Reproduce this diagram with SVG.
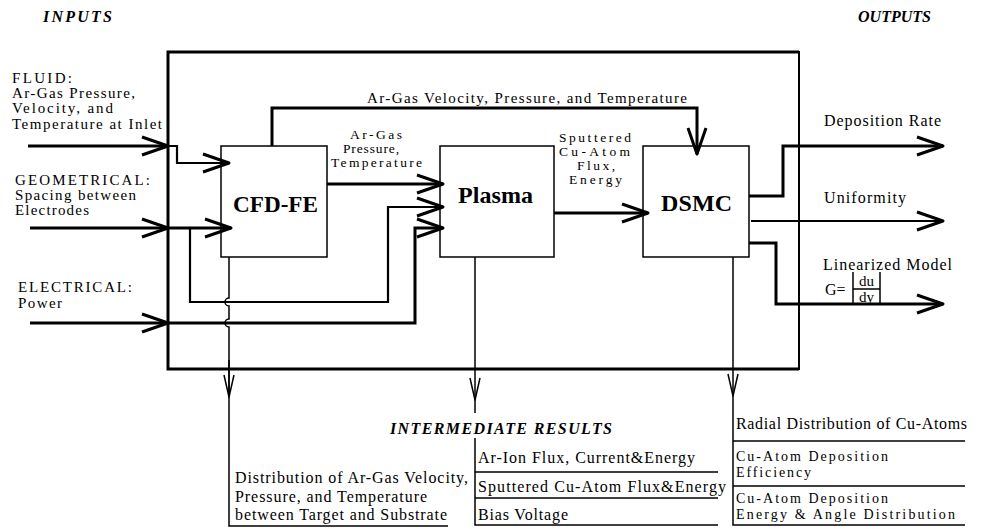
<svg xmlns="http://www.w3.org/2000/svg" width="981" height="529" viewBox="0 0 981 529">
<style>
text{font-family:"Liberation Serif","Times New Roman",serif;fill:#000}
.lab{font-size:15px}
.mid{font-size:15px}
.stk{font-size:13.5px}
.out{font-size:16px}
.bot{font-size:16px}
.bs{font-size:14px}
.frac{font-size:15px}
.hdr{font-size:16px;font-weight:bold;font-style:italic}
.node{font-size:24px;font-weight:bold}
.box{fill:#fff;stroke:#000;stroke-width:1.5}
.thick{fill:none;stroke:#000;stroke-width:3}
.med{fill:none;stroke:#000;stroke-width:2.2}
.thin{fill:none;stroke:#000;stroke-width:1.5}
.ah{marker-end:url(#open)}
.at{marker-end:url(#vthin)}
</style>
<defs>
<marker id="open" markerUnits="userSpaceOnUse" markerWidth="40" markerHeight="30" refX="0" refY="0" orient="auto" overflow="visible" viewBox="-30 -15 40 30">
<path d="M-26,-9 L0,0 L-26,9" fill="none" stroke="#000" stroke-width="3" stroke-linejoin="round"/>
</marker>
<marker id="vthin" markerUnits="userSpaceOnUse" markerWidth="40" markerHeight="30" refX="0" refY="0" orient="auto" overflow="visible" viewBox="-30 -15 40 30">
<path d="M-22,-5 L0,0 L-22,5" fill="none" stroke="#000" stroke-width="1.5" stroke-linejoin="round"/>
</marker>
</defs>
<rect width="981" height="529" fill="#fff"/>

<g id="headers">
<text class="hdr" x="43" y="22" textLength="69" lengthAdjust="spacing">INPUTS</text>
<text class="hdr" x="858" y="22" textLength="73" lengthAdjust="spacing">OUTPUTS</text>
<text class="hdr" x="390" y="434" textLength="222" lengthAdjust="spacing">INTERMEDIATE RESULTS</text>
</g>

<g id="system">
<path class="thick" d="M799,52 H168 V369 H799"/>
<line x1="799" y1="51" x2="799" y2="370" stroke="#000" stroke-width="2"/>
</g>

<g id="input-labels">
<text class="lab" x="12" y="83" textLength="60" lengthAdjust="spacing">FLUID:</text>
<text class="lab" x="12" y="98" textLength="123" lengthAdjust="spacing">Ar-Gas Pressure,</text>
<text class="lab" x="12" y="113" textLength="101" lengthAdjust="spacing">Velocity, and</text>
<text class="lab" x="12" y="129" textLength="150" lengthAdjust="spacing">Temperature at Inlet</text>
<text class="lab" x="15" y="185" textLength="135" lengthAdjust="spacing">GEOMETRICAL:</text>
<text class="lab" x="15" y="200" textLength="121" lengthAdjust="spacing">Spacing between</text>
<text class="lab" x="15" y="215" textLength="74" lengthAdjust="spacing">Electrodes</text>
<text class="lab" x="18" y="292" textLength="114" lengthAdjust="spacing">ELECTRICAL:</text>
<text class="lab" x="18" y="308" textLength="44" lengthAdjust="spacing">Power</text>
</g>

<g id="cfd-fe">
<rect class="box" x="221" y="146" width="106" height="111"/>
<text class="node" x="233" y="212" textLength="85" lengthAdjust="spacingAndGlyphs">CFD-FE</text>
</g>
<g id="plasma">
<rect class="box" x="440" y="146" width="114" height="111"/>
<text class="node" x="458" y="203" textLength="75" lengthAdjust="spacing">Plasma</text>
</g>
<g id="dsmc">
<rect class="box" x="643" y="146" width="106" height="111"/>
<text class="node" x="661" y="211" textLength="71" lengthAdjust="spacing">DSMC</text>
</g>

<g id="connectors">
<path class="thick ah" d="M28,146 H168"/>
<path class="med ah" d="M168,146 H177 V163 H229"/>
<path class="thick ah" d="M30,228 H168"/>
<path class="thick ah" d="M168,228 H231"/>
<path class="med ah" d="M190,228 V302 H388 V207 H443"/>
<path class="thick ah" d="M30,323 H168"/>
<path class="thick ah" d="M168,323 H415 V228 H443"/>
<path class="thick ah" d="M327,184 H443"/>
<path class="thick ah" d="M554,213 H648"/>
<path class="thick ah" d="M272,146 V108 H697 V154"/>
<path class="thick ah" d="M749,196 H783 V146 H943"/>
<path class="med ah" d="M751,221 H943"/>
<path class="thick ah" d="M749,243 H776 V304 H943"/>
<path class="thin" d="M229,257 V298 a4,4 0 0,0 0,8 V319 a4,4 0 0,0 0,8 V397"/>
<path class="thin at" d="M229,360 V397"/>
<path class="thin" d="M229,397 V526 H448"/>
<path class="thin at" d="M475,257 V400"/>
<path class="thin" d="M475,400 V413"/>
<path class="thin" d="M475,438 V525 H718"/>
<path class="thin at" d="M733,257 V396"/>
<path class="thin" d="M733,396 V525 H965"/>
<path class="thin" d="M475,472 H718 M475,498 H718"/>
<path class="thin" d="M733,441 H965 M733,486 H965"/>
</g>

<g id="connector-labels">
<text class="mid" x="367" y="103" textLength="320" lengthAdjust="spacing">Ar-Gas Velocity, Pressure, and Temperature</text>
<text class="stk" x="350" y="139" textLength="52" lengthAdjust="spacing">Ar-Gas</text>
<text class="stk" x="343" y="153" textLength="56" lengthAdjust="spacing">Pressure,</text>
<text class="stk" x="331" y="167" textLength="91" lengthAdjust="spacing">Temperature</text>
<text class="stk" x="559" y="142" textLength="72" lengthAdjust="spacing">Sputtered</text>
<text class="stk" x="559" y="156" textLength="71" lengthAdjust="spacing">Cu-Atom</text>
<text class="stk" x="577" y="170" textLength="38" lengthAdjust="spacing">Flux,</text>
<text class="stk" x="569" y="184" textLength="53" lengthAdjust="spacing">Energy</text>
</g>

<g id="output-labels">
<text class="out" x="824" y="126" textLength="117" lengthAdjust="spacing">Deposition Rate</text>
<text class="out" x="824" y="203" textLength="82" lengthAdjust="spacing">Uniformity</text>
<text class="out" x="823" y="270" textLength="129" lengthAdjust="spacing">Linearized Model</text>
<text class="out" x="825" y="295">G=</text>
<path class="thin" d="M853,272 V303 M880,272 V303 M853,289 H880"/>
<text class="frac" x="866.5" y="286" text-anchor="middle">du</text>
<text class="frac" x="866.5" y="302" text-anchor="middle">dy</text>
</g>

<g id="cfd-results">
<text class="bot" x="235" y="483" textLength="233" lengthAdjust="spacing">Distribution of Ar-Gas Velocity,</text>
<text class="bot" x="235" y="502" textLength="192" lengthAdjust="spacing">Pressure, and Temperature</text>
<text class="bot" x="235" y="520" textLength="212" lengthAdjust="spacing">between Target and Substrate</text>
</g>
<g id="plasma-results">
<text class="bot" x="478" y="463" textLength="217" lengthAdjust="spacing">Ar-Ion Flux, Current&amp;Energy</text>
<text class="bot" x="478" y="492" textLength="248" lengthAdjust="spacing">Sputtered Cu-Atom Flux&amp;Energy</text>
<text class="bot" x="478" y="520" textLength="90" lengthAdjust="spacing">Bias Voltage</text>
</g>
<g id="dsmc-results">
<text class="bot" x="736" y="429" textLength="231" lengthAdjust="spacing">Radial Distribution of Cu-Atoms</text>
<text class="bs" x="736" y="461" textLength="152" lengthAdjust="spacing">Cu-Atom Deposition</text>
<text class="bs" x="736" y="477" textLength="75" lengthAdjust="spacing">Efficiency</text>
<text class="bs" x="736" y="503" textLength="152" lengthAdjust="spacing">Cu-Atom Deposition</text>
<text class="bs" x="736" y="519" textLength="219" lengthAdjust="spacing">Energy &amp; Angle Distribution</text>
</g>
</svg>
